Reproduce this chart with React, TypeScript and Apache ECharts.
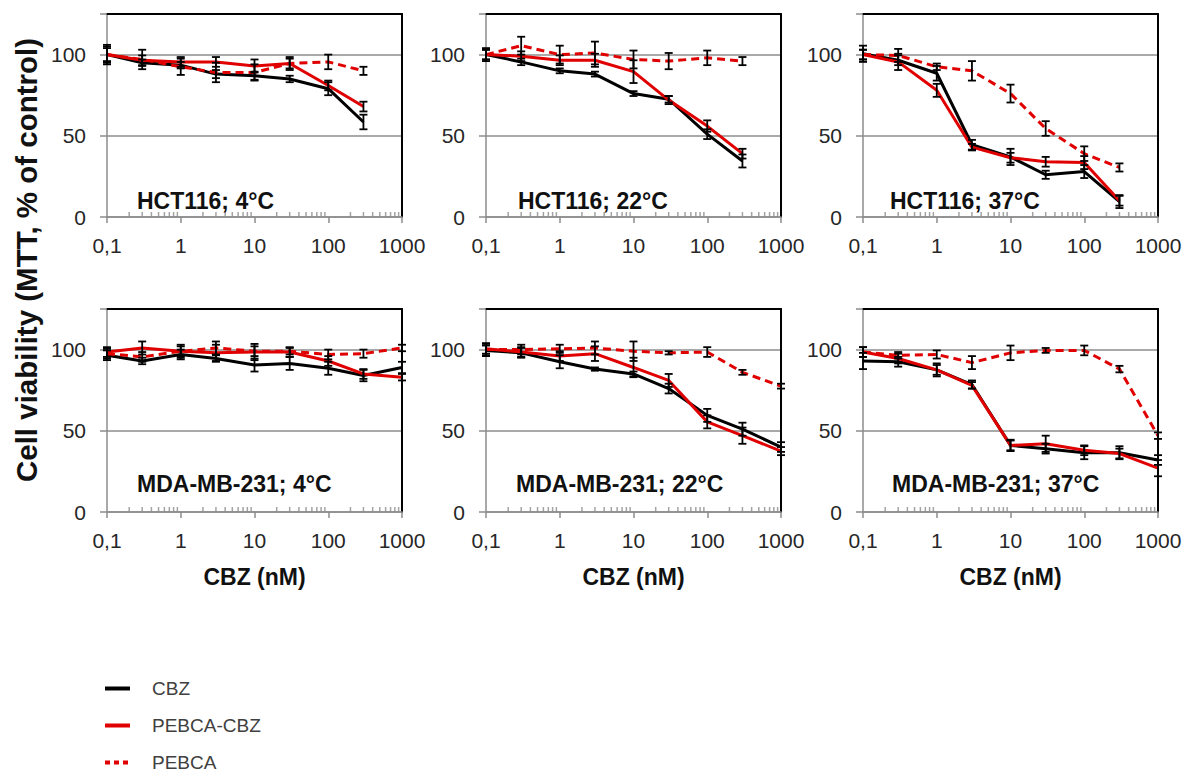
import { useEffect, useRef } from 'react';
import * as echarts from 'echarts';

// ---------- data ----------
const X_HCT = [0.1, 0.3, 1, 3, 10, 30, 100, 300];
const X_MDA = [0.1, 0.3, 1, 3, 10, 30, 100, 300, 1000];
const MINOR_TICKS = [
  0.2, 0.3, 0.4, 0.5, 0.6, 0.7, 0.8, 0.9,
  2, 3, 4, 5, 6, 7, 8, 9,
  20, 30, 40, 50, 60, 70, 80, 90,
  200, 300, 400, 500, 600, 700, 800, 900,
];
const SERIES_NAMES = ['CBZ', 'PEBCA-CBZ', 'PEBCA'];
const PANEL_TITLES = [
  'HCT116; 4°C', 'HCT116; 22°C', 'HCT116; 37°C',
  'MDA-MB-231; 4°C', 'MDA-MB-231; 22°C', 'MDA-MB-231; 37°C',
];
const X_AXIS_TITLE = 'CBZ (nM)';
const Y_AXIS_TITLE = 'Cell viability (MTT, % of control)';

// HCT116 4°C
const HCT4_CBZ = [100, 95, 93.5, 88, 87, 85, 79, 58.5];
const HCT4_CBZ_ERR = [5, 2, 2, 2.5, 2.5, 2, 4, 4.5];
const HCT4_PCBZ = [100, 96.5, 95.5, 95.5, 93, 94.5, 81, 68];
const HCT4_PCBZ_ERR = [4, 3, 3, 3, 4, 3, 3, 3];
const HCT4_PEBCA = [100, 97, 92.5, 89, 89, 94.5, 95.5, 90];
const HCT4_PEBCA_ERR = [6, 6, 5, 6, 5, 4, 4.5, 2.5];
// HCT116 22°C
const HCT22_CBZ = [100, 95.5, 90, 88, 76, 72.5, 51, 34.5];
const HCT22_CBZ_ERR = [3, 2, 1.5, 1.5, 1.5, 2, 3, 4];
const HCT22_PCBZ = [100, 99, 96.5, 96.5, 89.5, 72, 56, 39];
const HCT22_PCBZ_ERR = [3, 3, 3, 4, 7, 2.5, 3.5, 3];
const HCT22_PEBCA = [100, 105.5, 100, 101, 97, 96, 98, 96];
const HCT22_PEBCA_ERR = [4, 5.5, 5.5, 7, 5.5, 5, 4.5, 2.5];
// HCT116 37°C
const HCT37_CBZ = [100.5, 96.5, 88.5, 44.5, 37, 26, 28, 9.5];
const HCT37_CBZ_ERR = [5, 3, 4.5, 3, 5, 2.5, 4, 4];
const HCT37_PCBZ = [100, 95.5, 78, 43, 36.5, 34, 33.5, 10];
const HCT37_PCBZ_ERR = [3, 5, 4, 2, 3, 3, 4, 3];
const HCT37_PEBCA = [100, 99.5, 92.5, 90, 76, 54.5, 39, 30.5];
const HCT37_PEBCA_ERR = [3, 4, 2, 6, 5.5, 4.5, 4.5, 2.5];
// MDA-MB-231 4°C
const MDA4_CBZ = [96.5, 93, 97, 94.5, 90.5, 91.5, 88.5, 84, 89];
const MDA4_CBZ_ERR = [3, 2, 3, 2, 4, 4, 4, 3.5, 3.5];
const MDA4_PCBZ = [98.5, 101, 99, 98, 98.5, 98.5, 93, 85, 83];
const MDA4_PCBZ_ERR = [3, 4, 4, 5, 5, 3, 3, 3, 2];
const MDA4_PEBCA = [97.5, 95.5, 99, 101, 99, 99, 97, 97.5, 101];
const MDA4_PEBCA_ERR = [3, 3, 3, 4, 3, 2, 3, 2.5, 2];
// MDA-MB-231 22°C
const MDA22_CBZ = [99.5, 98, 92.5, 88, 85, 76, 59.5, 51, 40];
const MDA22_CBZ_ERR = [3, 3, 4, 1, 1.5, 3, 4, 4, 3];
const MDA22_PCBZ = [100.5, 98.5, 96, 97.5, 89, 81, 55.5, 47, 37.5];
const MDA22_PCBZ_ERR = [3, 3, 3, 4.5, 6, 4, 4, 5, 2.5];
const MDA22_PEBCA = [100, 100, 100.5, 101, 99, 98, 98.5, 86, 77.5];
const MDA22_PEBCA_ERR = [4, 3, 2.5, 4, 6, 1, 3, 1.5, 1.5];
// MDA-MB-231 37°C
const MDA37_CBZ = [93, 92.5, 87.5, 78.5, 41, 39, 36.5, 36.5, 32];
const MDA37_CBZ_ERR = [5, 3, 4, 2.5, 3.5, 3, 4, 4, 3];
const MDA37_PCBZ = [98.5, 94.5, 87.5, 78, 41, 42, 38, 36, 27];
const MDA37_PCBZ_ERR = [3, 3, 3, 2, 3, 5, 3, 3, 5];
const MDA37_PEBCA = [98.5, 96.5, 97, 92, 98, 99.5, 99.5, 88, 47];
const MDA37_PEBCA_ERR = [3, 2, 2.5, 4, 4.5, 1.5, 3, 2, 2];

const PANELS = [
  { x: X_HCT, vals: [HCT4_CBZ, HCT4_PCBZ, HCT4_PEBCA], errs: [HCT4_CBZ_ERR, HCT4_PCBZ_ERR, HCT4_PEBCA_ERR] },
  { x: X_HCT, vals: [HCT22_CBZ, HCT22_PCBZ, HCT22_PEBCA], errs: [HCT22_CBZ_ERR, HCT22_PCBZ_ERR, HCT22_PEBCA_ERR] },
  { x: X_HCT, vals: [HCT37_CBZ, HCT37_PCBZ, HCT37_PEBCA], errs: [HCT37_CBZ_ERR, HCT37_PCBZ_ERR, HCT37_PEBCA_ERR] },
  { x: X_MDA, vals: [MDA4_CBZ, MDA4_PCBZ, MDA4_PEBCA], errs: [MDA4_CBZ_ERR, MDA4_PCBZ_ERR, MDA4_PEBCA_ERR] },
  { x: X_MDA, vals: [MDA22_CBZ, MDA22_PCBZ, MDA22_PEBCA], errs: [MDA22_CBZ_ERR, MDA22_PCBZ_ERR, MDA22_PEBCA_ERR] },
  { x: X_MDA, vals: [MDA37_CBZ, MDA37_PCBZ, MDA37_PEBCA], errs: [MDA37_CBZ_ERR, MDA37_PCBZ_ERR, MDA37_PEBCA_ERR] },
];

// ---------- layout / style ----------
const FONT = '"Liberation Sans", Arial, sans-serif';
const GRID_LEFTS = [107, 486, 863];
const GRID_TOPS = [14, 309];
const GRID_W = 295;
const GRID_H = 203;
const TITLE_POS = [
  [137, 201], [518, 201], [890, 201],
  [137, 484], [516, 484], [892, 484],
];
const RED = '#e00000';
const GRAY = '#8c8c8c';
const LINE_COLORS = ['#000000', RED, RED];
const LINE_TYPES: any[] = ['solid', 'solid', [8, 5]];

function fmtX(v: number) {
  const r = Math.round(v * 10) / 10;
  return String(r).replace('.', ',');
}

function buildOption() {
  const grid: any[] = [];
  const xAxis: any[] = [];
  const yAxis: any[] = [];
  const series: any[] = [];
  const graphic: any[] = [];

  PANELS.forEach((p, i) => {
    const row = Math.floor(i / 3);
    const col = i % 3;
    grid.push({ left: GRID_LEFTS[col], top: GRID_TOPS[row], width: GRID_W, height: GRID_H });
    xAxis.push({
      type: 'log', logBase: 10, gridIndex: i, min: 0.1, max: 1000,
      axisLine: { show: true, onZero: false, lineStyle: { color: GRAY, width: 1.5 } },
      axisTick: { show: true, length: 6, lineStyle: { color: GRAY, width: 1.5 } },
      axisLabel: { formatter: fmtX, fontSize: 21, color: '#262626', margin: 18, fontFamily: FONT },
      splitLine: { show: false },
      name: row === 1 ? X_AXIS_TITLE : '',
      nameLocation: 'middle', nameGap: 53,
      nameTextStyle: { fontSize: 23, fontWeight: 'bold', color: '#111', fontFamily: FONT },
    });
    xAxis.push({
      type: 'log', logBase: 10, gridIndex: i, min: 0.1, max: 1000, position: 'top',
      axisLine: { show: true, onZero: false, lineStyle: { color: '#000', width: 2 } },
      axisTick: { show: false }, axisLabel: { show: false }, splitLine: { show: false },
    });
    yAxis.push({
      type: 'value', gridIndex: i, min: 0, max: 125, interval: 50,
      axisLine: { show: true, onZero: false, lineStyle: { color: GRAY, width: 1.5 } },
      axisTick: { show: true, length: 7, lineStyle: { color: GRAY, width: 1.5 } },
      axisLabel: {
        formatter: (v: number) => (v > 100 ? '' : String(v)),
        fontSize: 21, color: '#262626', margin: 21, fontFamily: FONT,
      },
      splitLine: { show: true, lineStyle: { color: GRAY, width: 1.5 } },
    });
    yAxis.push({
      type: 'value', gridIndex: i, min: 0, max: 125, position: 'right',
      axisLine: { show: true, onZero: false, lineStyle: { color: '#000', width: 2 } },
      axisTick: { show: false }, axisLabel: { show: false }, splitLine: { show: false },
    });

    // minor log ticks
    series.push({
      type: 'scatter', xAxisIndex: 2 * i, yAxisIndex: 2 * i, silent: true, clip: false,
      symbol: 'rect', symbolSize: [1.5, 5], symbolOffset: [0, -2.5],
      itemStyle: { color: GRAY }, z: 1,
      data: MINOR_TICKS.map((v) => [v, 0]),
    });

    const errData: any[] = [];
    p.vals.forEach((vals, s) => {
      series.push({
        type: 'line', name: SERIES_NAMES[s], xAxisIndex: 2 * i, yAxisIndex: 2 * i,
        symbol: 'none', color: LINE_COLORS[s],
        lineStyle: { color: LINE_COLORS[s], width: 3, type: LINE_TYPES[s] },
        z: 3 + s,
        data: p.x.map((x, j) => [x, vals[j]]),
      });
      p.x.forEach((x, j) => {
        errData.push([x, vals[j] - p.errs[s][j], vals[j] + p.errs[s][j]]);
      });
    });
    series.push({
      type: 'custom', name: 'err', xAxisIndex: 2 * i, yAxisIndex: 2 * i, z: 10, silent: true,
      encode: { x: 0, y: [1, 2] },
      data: errData,
      renderItem: (_params: any, api: any) => {
        const x = api.value(0);
        const lo = api.coord([x, api.value(1)]);
        const hi = api.coord([x, api.value(2)]);
        const w = 4;
        const st = { stroke: '#000', lineWidth: 1.8 };
        return {
          type: 'group',
          children: [
            { type: 'line', shape: { x1: lo[0], y1: lo[1], x2: hi[0], y2: hi[1] }, style: st },
            { type: 'line', shape: { x1: lo[0] - w, y1: lo[1], x2: lo[0] + w, y2: lo[1] }, style: st },
            { type: 'line', shape: { x1: hi[0] - w, y1: hi[1], x2: hi[0] + w, y2: hi[1] }, style: st },
          ],
        };
      },
    });

    graphic.push({
      type: 'text', x: TITLE_POS[i][0], y: TITLE_POS[i][1], z: 20,
      style: {
        text: PANEL_TITLES[i], font: `bold 23px ${FONT}`, fill: '#111',
        align: 'left', verticalAlign: 'middle',
      },
    });
  });

  graphic.push({
    type: 'text', x: 26, y: 260, rotation: Math.PI / 2,
    style: {
      text: Y_AXIS_TITLE, font: `bold 29.5px ${FONT}`, fill: '#111',
      align: 'center', verticalAlign: 'middle',
    },
  });

  return {
    animation: false,
    backgroundColor: '#fff',
    grid, xAxis, yAxis, series, graphic,
    legend: {
      orient: 'vertical', left: 98, top: 674, height: 100, itemWidth: 25, itemHeight: 14, itemGap: 18,
      selectedMode: false,
      itemStyle: { opacity: 0 },
      lineStyle: { width: 4 },
      data: [
        { name: 'CBZ' },
        { name: 'PEBCA-CBZ' },
        { name: 'PEBCA', lineStyle: { type: [5, 4], width: 4 } },
      ],
      textStyle: { fontSize: 19, color: '#404040', fontFamily: FONT, padding: [0, 0, 0, 17] },
    },
  };
}

export default function App() {
  const ref = useRef<HTMLDivElement>(null);
  useEffect(() => {
    if (!ref.current) return;
    const chart = echarts.init(ref.current, undefined, { renderer: 'svg' });
    chart.setOption(buildOption() as any);
    return () => chart.dispose();
  }, []);
  return <div ref={ref} style={{ position: 'absolute', left: 0, top: 0, width: 1186, height: 776 }} />;
}
